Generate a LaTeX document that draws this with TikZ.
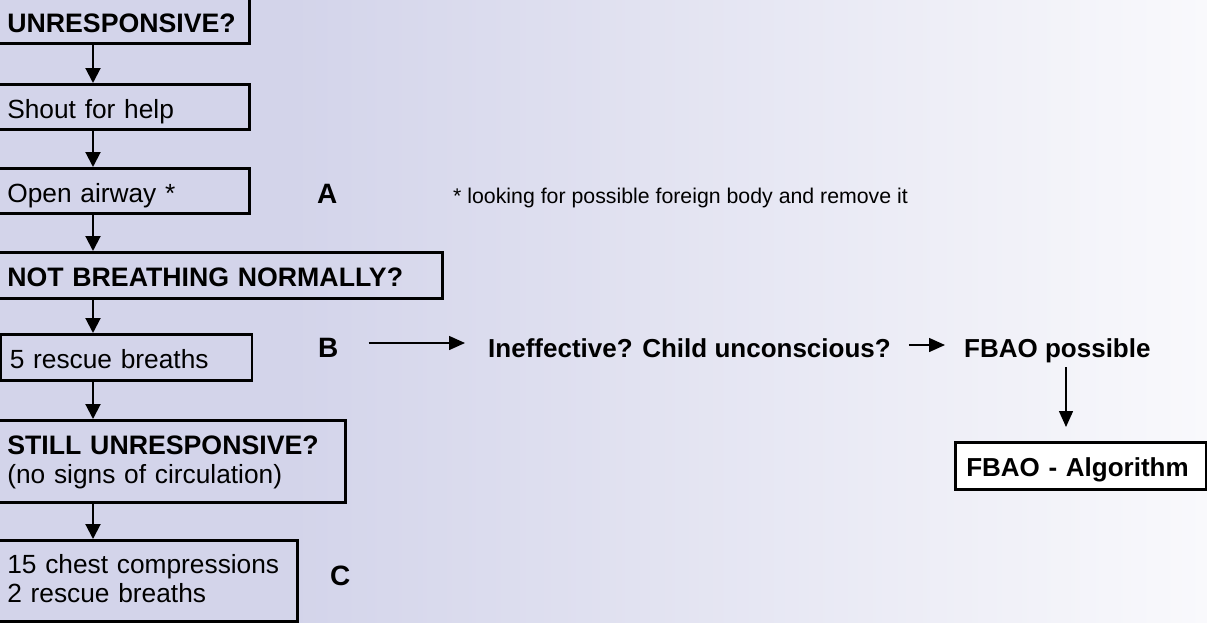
\documentclass[tikz,border=0pt]{standalone}
\usepackage{fontspec}
\setmainfont{Liberation Sans}
\usetikzlibrary{arrows.meta}
\definecolor{bgL}{RGB}{211,212,234}
\definecolor{bgR}{RGB}{249,249,252}
\newcommand{\fsbox}{\fontsize{26.3}{29}\selectfont}
\newcommand{\fsbold}{\fontsize{26.7}{29}\selectfont\bfseries}
\newcommand{\fslab}{\fontsize{28}{32}\selectfont\bfseries}
\newcommand{\fsnote}{\fontsize{21.3}{25}\selectfont}
\tikzset{
  box/.style={draw=black, line width=2.6pt, rectangle, anchor=north west,
    inner xsep=9pt, inner ysep=0pt, align=left, font=\fsbox,
    text height=23pt, text depth=0pt},
  twoline/.style={text depth=37pt},
  txt/.style={inner sep=0pt, anchor=base west},
  flow/.style={line width=2pt, -{Triangle[width=15pt,length=15pt]}},
  thin/.style={line width=1.5pt, -{Triangle[width=14pt,length=16pt]}}
}
\begin{document}
\begin{tikzpicture}[x=1pt,y=-1pt]
\useasboundingbox (0,0) rectangle (1207,622);
\fill[bgL] (0,0) rectangle (291,622);
\fill[left color=bgL, right color=bgR] (290,0) rectangle (1207,622);

% main column boxes
\node[box, minimum width=251pt, minimum height=45pt, text width=233pt] (b1) at (-3,-3) {\fsbold UNRESPONSIVE?};
\node[box, minimum width=251pt, minimum height=45pt, text width=233pt] (b2) at (-3,83) {Shout for help};
\node[box, minimum width=251pt, minimum height=45pt, text width=233pt] (b3) at (-3,167) {Open airway *};
\node[box, minimum width=444pt, minimum height=46pt, text width=426pt] (b4) at (-3,251) {\fsbold NOT BREATHING NORMALLY?};
\node[box, minimum width=251pt, minimum height=46pt, text width=233pt] (b5) at (-0.5,333) {5 rescue breaths};
\node[box, twoline, minimum width=347pt, minimum height=82pt, text width=329pt] (b6) at (-3,419) {{\fsbold STILL UNRESPONSIVE?}\\(no signs of circulation)};
\node[box, twoline, minimum width=299pt, minimum height=81pt, text width=281pt] (b7) at (-3,539) {15 chest compressions\\2 rescue breaths};

% column of arrows
\coordinate (ax) at (93,0);
\draw[flow] (b1.south -| ax) -- (b2.north -| ax);
\draw[flow] (b2.south -| ax) -- (b3.north -| ax);
\draw[flow] (b3.south -| ax) -- (b4.north -| ax);
\draw[flow] (b4.south -| ax) -- (b5.north -| ax);
\draw[flow] (b5.south -| ax) -- (b6.north -| ax);
\draw[flow] (b6.south -| ax) -- (b7.north -| ax);

% labels
\node[txt, font=\fslab] (lA) at (317,203) {A};
\node[txt, font=\fslab] (lB) at (318,357) {B};
\node[txt, font=\fslab] (lC) at (330,585) {C};
\node[txt, font=\fsnote] (note) at (453,203) {* looking for possible foreign body and remove it};

% B branch
\node[txt, font=\fontsize{26}{29}\selectfont\bfseries] (ineff) at (488,357) {Ineffective? Child unconscious?};
\node[txt, font=\fontsize{26}{29}\selectfont\bfseries] (fbp) at (964,357) {FBAO possible};
\node[box, minimum width=251pt, minimum height=47pt, text width=229pt, inner xsep=11pt, text depth=2pt, fill=white, font=\fontsize{26}{29}\selectfont\bfseries] (alg) at (954,441) {FBAO - Algorithm};

\coordinate (rowB) at (0,343);
\coordinate (rowF) at (0,345);
\coordinate (colF) at (1066,0);
\draw[thin] (lB.east |- rowB) ++(30,0) -- ([xshift=-23pt]ineff.west |- rowB);
\draw[thin] (ineff.east |- rowF) ++(18,0) -- ([xshift=-19pt]fbp.west |- rowF);
\draw[thin] (fbp.south -| colF) ++(0,4.5) -- ([yshift=14pt]alg.north -| colF);
\end{tikzpicture}
\end{document}
